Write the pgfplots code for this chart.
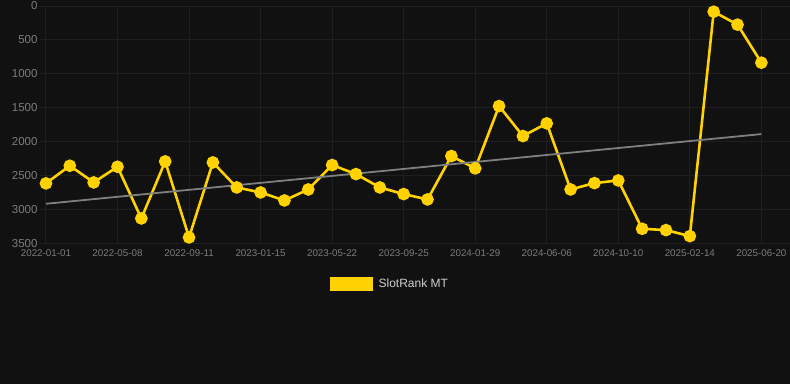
\documentclass[border=0pt]{standalone}
\usepackage{pgfplots}
\pgfplotsset{compat=1.18}
\usepackage{fontspec}
\setmainfont{Liberation Sans}
\definecolor{bg}{HTML}{111111}
\definecolor{gridc}{HTML}{1F1F1F}
\definecolor{ycol}{HTML}{FFD200}
\definecolor{trendc}{HTML}{7F7F7F}
\definecolor{tickc}{HTML}{7C7C7C}
\definecolor{legc}{HTML}{D0D0D0}
\begin{document}
\begin{tikzpicture}[x=1pt,y=1pt]
\fill[bg] (0,0) rectangle (790,384);
\useasboundingbox (0,0) rectangle (790,384);
\begin{axis}[
  at={(40pt,140.7pt)}, anchor=south west,
  scale only axis, width=750pt, height=237.3pt,
  xmin=-0.25, xmax=31.2,
  ymin=0, ymax=3500, y dir=reverse,
  ytick={0,500,...,3500},
  xtick={0,3,...,30},
  xticklabels={2022-01-01,2022-05-08,2022-09-11,2023-01-15,2023-05-22,2023-09-25,2024-01-29,2024-06-06,2024-10-10,2025-02-14,2025-06-20},
  /pgf/number format/assume math mode=true,
  /pgf/number format/1000 sep={},
  yticklabel style={font=\fontsize{11.5}{12}\selectfont, text=tickc, xshift=1pt},
  xticklabel style={font=\fontsize{9.8}{11}\selectfont, text=tickc, yshift=-3pt},
  major tick length=0pt,
  axis line style={draw=none},
  grid=major, major grid style={draw=gridc, line width=1pt},
  clip=false,
  legend style={at={(0.466,-0.1715)}, anchor=center, draw=none, fill=none,
    text=legc, font=\fontsize{12}{13}\selectfont,
    nodes={inner sep=1pt},
    /tikz/every odd column/.append style={column sep=5pt}},
  legend cell align=left,
  legend image code/.code={\fill[ycol] (0pt,-6pt) rectangle (40pt,6pt);},
]
\addplot[ycol, line width=2.6pt, mark=*, mark size=5pt, mark options={fill=ycol, draw=none}]
coordinates {
(0,2616) (1,2356) (2,2602) (3,2371) (4,3133) (5,2292) (6,3413) (7,2307)
(8,2676) (9,2750) (10,2868) (11,2706) (12,2346) (13,2479) (14,2676)
(15,2774) (16,2853) (17,2213) (18,2395) (19,1476) (20,1918) (21,1731)
(22,2706) (23,2612) (24,2573) (25,3286) (26,3305) (27,3394) (28,84)
(29,275) (30,836)
};
\addlegendentry{SlotRank MT}
\addplot[trendc, line width=1.8pt, forget plot] coordinates {(0,2917) (30,1889)};
\end{axis}
\end{tikzpicture}
\end{document}
